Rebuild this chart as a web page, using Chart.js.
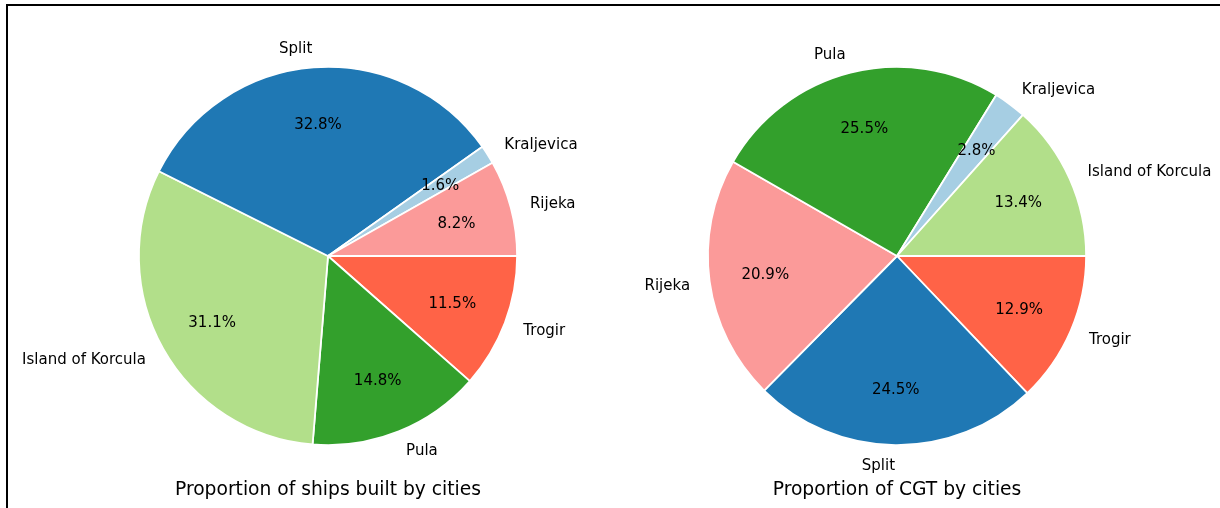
<!DOCTYPE html>
<html>

<head>
  <title>Proportion of ships and CGT by cities</title>
  <style>
    body {
      margin: 0;
      background: #ffffff;
    }

    #frame {
      position: absolute;
      left: 6px;
      top: 4px;
      width: 1300px;
      height: 600px;
      border-top: 2px solid #000000;
      border-left: 2px solid #000000;
    }

    .pie {
      position: absolute;
      top: 0;
      height: 508px;
    }
  </style>
  <script src="https://cdn.jsdelivr.net/npm/chart.js"></script>
</head>

<body>
  <div id="frame"></div>
  <div class="pie" style="left: 0; width: 656px;">
    <canvas id="shipsChart"></canvas>
  </div>
  <div class="pie" style="left: 592px; width: 628px;">
    <canvas id="cgtChart"></canvas>
  </div>

  <script>
    // data, listed counterclockwise from 3 o'clock (as matplotlib draws them)
    var shipCities = ["Rijeka", "Kraljevica", "Split", "Island of Korcula", "Pula", "Trogir"];
    var shipShares = [8.2, 1.6, 32.8, 31.1, 14.8, 11.5];

    var cgtCities = ["Island of Korcula", "Kraljevica", "Pula", "Rijeka", "Split", "Trogir"];
    var cgtShares = [13.4, 2.8, 25.5, 20.9, 24.5, 12.9];

    var cityColors = {
      "Split": "#1f78b4",
      "Island of Korcula": "#b2df8a",
      "Kraljevica": "#a6cee3",
      "Rijeka": "#fb9a99",
      "Pula": "#33a02c",
      "Trogir": "#ff6347"
    };

    var font = "DejaVu Sans, sans-serif";

    // labels outside (1.1 r), percentages inside (0.7 r), title under the pie
    var pieLabels = {
      id: "pieLabels",
      afterDatasetsDraw: function (chart, args, opts) {
        var ctx = chart.ctx;
        var meta = chart.getDatasetMeta(0);
        var labels = chart.data.labels;
        var values = chart.data.datasets[0].data;
        ctx.save();
        ctx.fillStyle = "#000000";
        ctx.textBaseline = "middle";
        ctx.font = "15px " + font;
        meta.data.forEach(function (arc, i) {
          var p = arc.getProps(["x", "y", "startAngle", "endAngle", "outerRadius"], true);
          var mid = (p.startAngle + p.endAngle) / 2;
          var r = p.outerRadius + 0.75;
          var cx = Math.cos(mid), cy = Math.sin(mid);
          ctx.textAlign = cx > 0 ? "left" : "right";
          ctx.fillText(labels[i], p.x + 1.1 * r * cx, p.y + 1.1 * r * cy + 1.5);
          ctx.textAlign = "center";
          ctx.fillText(values[i].toFixed(1) + "%", p.x + 0.7 * r * cx, p.y + 0.7 * r * cy + 1.5);
        });
        var area = chart.chartArea;
        ctx.font = "18.7px " + font;
        ctx.textAlign = "center";
        ctx.fillText(opts.text, (area.left + area.right) / 2, 490);
        ctx.restore();
      }
    };

    function makePie(id, cities, shares, title, padding) {
      // Chart.js goes clockwise from the top, so reverse and start at 3 o'clock
      var labels = cities.slice().reverse();
      var data = shares.slice().reverse();
      return new Chart(document.getElementById(id), {
        type: "pie",
        data: {
          labels: labels,
          datasets: [{
            data: data,
            backgroundColor: labels.map(function (c) { return cityColors[c]; }),
            borderColor: "#ffffff",
            borderWidth: 1.8
          }]
        },
        options: {
          responsive: true,
          maintainAspectRatio: false,
          animation: false,
          devicePixelRatio: 1,
          rotation: 90,
          layout: { padding: padding },
          events: [],
          plugins: {
            legend: { display: false },
            tooltip: { enabled: false },
            pieLabels: { text: title }
          }
        },
        plugins: [pieLabels]
      });
    }

    makePie("shipsChart", shipCities, shipShares, "Proportion of ships built by cities",
      { left: 138, right: 138, top: 66, bottom: 62 });
    makePie("cgtChart", cgtCities, cgtShares, "Proportion of CGT by cities",
      { left: 115, right: 133, top: 66, bottom: 62 });
  </script>

</body>

</html>
